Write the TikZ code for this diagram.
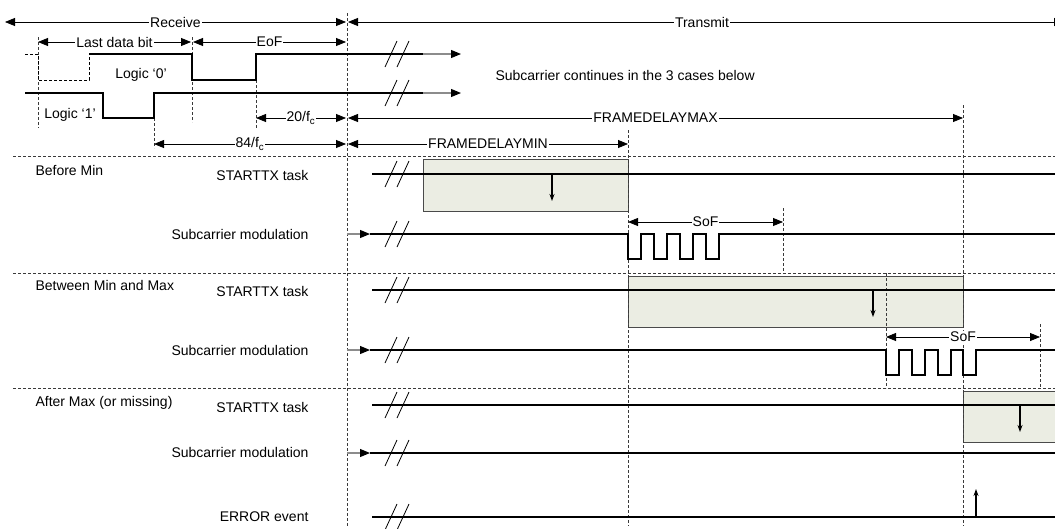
\documentclass[tikz,border=0pt]{standalone}
\usepackage{fontspec}
\setmainfont{Liberation Sans}
\usetikzlibrary{arrows.meta}
\definecolor{nfcBox}{HTML}{EBEDE3}
\definecolor{nfcEdge}{HTML}{4A4A4A}
\definecolor{nfcDash}{HTML}{3A3A3A}
\definecolor{nfcGrey}{HTML}{8C8C8C}

\begin{document}
\begin{tikzpicture}[x=1pt,y=-1pt,>=Triangle,line join=miter,font=\fontsize{14}{16}\selectfont]
\useasboundingbox (0,0) rectangle (1055,528);
\tikzset{sig/.style={draw=black,line width=1.6pt},
  guide/.style={draw=nfcDash,line width=0.7pt,dash pattern=on 3pt off 2pt},
  dim/.style={draw=black,line width=0.8pt,{Triangle[length=10pt,width=8pt]}-{Triangle[length=10pt,width=8pt]}},
  dimlbl/.style={midway,fill=white,inner sep=1pt},
  feed/.style={draw=nfcGrey,line width=1.1pt,-{Triangle[length=10pt,width=8pt,color=black]}},
  taskbox/.style={draw=nfcEdge,fill=nfcBox,line width=0.9pt},
  trig/.style={draw=black,line width=1.1pt,-{Stealth[length=7pt,width=5pt]}},
  brk/.style={draw=black,line width=0.8pt}}
% task windows
\filldraw[taskbox] (423,159) rectangle (628,211);
\filldraw[taskbox] (628,276) rectangle (963,327);
\filldraw[taskbox] (963,391) rectangle (1062,442);
% guide lines
\foreach \yy in {156,273,388} \draw[guide] (13,\yy) -- (1062,\yy);
\draw[guide] (38,37) -- (38,128); \draw[guide] (154,93) -- (154,148);
\draw[guide] (192,37) -- (192,122); \draw[guide] (256,55) -- (256,128);
\draw[guide] (347,13) -- (347,526); \draw[guide] (628,130) -- (628,526); \draw[guide] (963,105) -- (963,526);
\draw[guide] (783,208) -- (783,273); \draw[guide] (886,273) -- (886,388); \draw[guide] (1040,324) -- (1040,388);
% dimensions
\draw[dim] (5,22) -- node[dimlbl] (rxLbl) {Receive} (346,22);
\draw[dim] (348,22) -- node[dimlbl,xshift=-4pt] (txLbl) {Transmit} (1064,22);
\draw[dim] (38,42) -- node[dimlbl] (bitLbl) {Last data bit} (191,42);
\draw[dim] (193,42) -- node[dimlbl] (eofLbl) {EoF} (346,42);
\draw[dim] (256,118) -- node[dimlbl] (fc20Lbl) {20/f\textsubscript{c}} (346,118);
\draw[dim] (154,144) -- node[dimlbl] (fc84Lbl) {84/f\textsubscript{c}} (346,144);
\draw[dim] (348,118) -- node[dimlbl] (maxLbl) {FRAMEDELAYMAX} (963,118);
\draw[dim] (348,144) -- node[dimlbl] (minLbl) {FRAMEDELAYMIN} (628,144);
\draw[dim] (628,222) -- node[dimlbl] (sofA) {SoF} (783,222);
\draw[dim] (886,337) -- node[dimlbl] (sofB) {SoF} (1040,337);
% receive waveforms
\draw[sig,line width=1pt,dash pattern=on 3pt off 2pt] (25,54) -- (38,54) -- (38,80) -- (89,80) -- (89,54);
\draw[sig] (89,54) -- (192,54) -- (192,80) -- (256,80) -- (256,54) -- (423,54);
\draw[sig] (25,93) -- (103,93) -- (103,118) -- (154,118) -- (154,93) -- (423,93);
\draw[feed] (423,54) -- (461,54); \draw[feed] (423,93) -- (461,93);
\node[anchor=center] (logic0) at (141,75) {Logic ‘0’};
\node[anchor=center] (logic1) at (70,115) {Logic ‘1’};
\node[anchor=west] (contLbl) at (492,75) {Subcarrier continues in the 3 cases below};
% case rows
\node[anchor=west] (caseMin) at (32,170) {Before Min};
\node[anchor=west] (caseMid) at (32,285) {Between Min and Max};
\node[anchor=west] (caseMax) at (32,403) {After Max (or missing)};
\node[anchor=east] (taskA) at (312,175) {STARTTX task};
\node[anchor=east] (subA) at (312,234) {Subcarrier modulation};
\node[anchor=east] (taskB) at (312,291) {STARTTX task};
\node[anchor=east] (subB) at (312,350) {Subcarrier modulation};
\node[anchor=east] (taskC) at (312,407) {STARTTX task};
\node[anchor=east] (subC) at (312,452) {Subcarrier modulation};
\node[anchor=east] (errC) at (312,517) {ERROR event};
\foreach \yy in {174,290,405,517} \draw[sig] (372,\yy) -- (1062,\yy);
\foreach \yy in {234,350,453} \draw[feed] (347,\yy) -- (370,\yy);
\draw[sig] (370,234) -- (628,234) -- (628,259) -- (641,259) -- (641,234) -- (654,234) -- (654,259) -- (667,259) -- (667,234)
  -- (680,234) -- (680,259) -- (693,259) -- (693,234) -- (706,234) -- (706,259) -- (719,259) -- (719,234) -- (1062,234);
\draw[sig] (370,350) -- (886,350) -- (886,375) -- (899,375) -- (899,350) -- (912,350) -- (912,375) -- (925,375) -- (925,350)
  -- (938,350) -- (938,375) -- (951,375) -- (951,350) -- (963,350) -- (963,375) -- (976,375) -- (976,350) -- (1062,350);
\draw[sig] (370,453) -- (1062,453);
% time breaks
\foreach \yy in {54,93,174,234,290,350,405,453,517}
  \foreach \xx in {391,403} \draw[brk] (\xx-6,\yy+13) -- (\xx+6,\yy-13);
% task and event triggers
\draw[trig] (552,174) -- (552,201);
\draw[trig] (873,290) -- (873,317);
\draw[trig] (1020,405) -- (1020,432);
\draw[trig] (976,517) -- (976,489);
\end{tikzpicture}
\end{document}
